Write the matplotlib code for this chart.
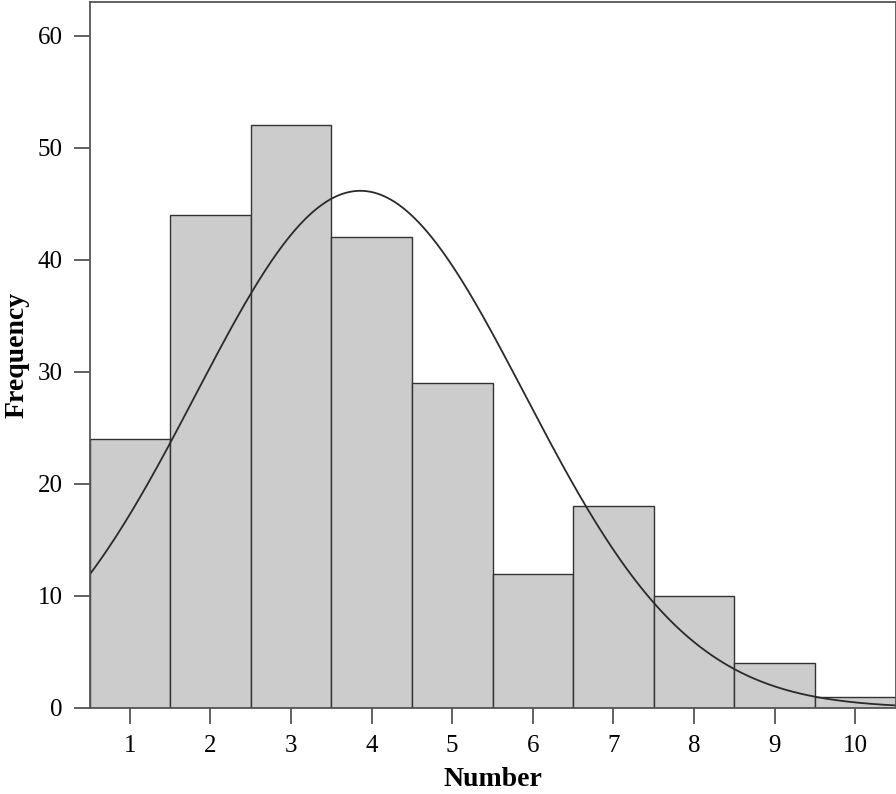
import numpy as np
import matplotlib
matplotlib.use("Agg")
import matplotlib.pyplot as plt

categories = [1, 2, 3, 4, 5, 6, 7, 8, 9, 10]
frequencies = [24, 44, 52, 42, 29, 12, 18, 10, 4, 1]
curve_mean = 3.86
curve_sd = 2.04
y_ticks = [0, 10, 20, 30, 40, 50, 60]

plt.rcParams['font.family'] = ['Liberation Serif', 'DejaVu Serif']

fig = plt.figure(figsize=(8.96, 7.94), dpi=100)
ax = fig.add_axes([89.5/896, 86/794, 1 - 89.5/896 - 0.5/896, (708-2)/794])

ax.bar(categories, frequencies, width=1.0, color='#cccccc', edgecolor='#333333', linewidth=1.0)

n = sum(frequencies)
xs = np.linspace(0.5, 10.5, 400)
ys = n / (curve_sd * np.sqrt(2*np.pi)) * np.exp(-(xs - curve_mean)**2 / (2*curve_sd**2))
ax.plot(xs, ys, color='#2a2a2a', linewidth=1.3)

ax.set_xlim(0.5, 10.5)
ax.set_ylim(0, 63)
ax.set_xticks(categories)
ax.set_yticks(y_ticks)
ax.tick_params(axis='both', direction='out', length=11.5, width=1.3, color='#555555',
               labelsize=18, pad=8, labelcolor='black')
for s in ax.spines.values():
    s.set_color('#555555')
    s.set_linewidth(1.3)

ax.set_xlabel('Number', fontsize=20, fontweight='bold', labelpad=7)
ax.set_ylabel('Frequency', fontsize=20, fontweight='bold', labelpad=6)

fig.savefig('out.png', dpi=100)
